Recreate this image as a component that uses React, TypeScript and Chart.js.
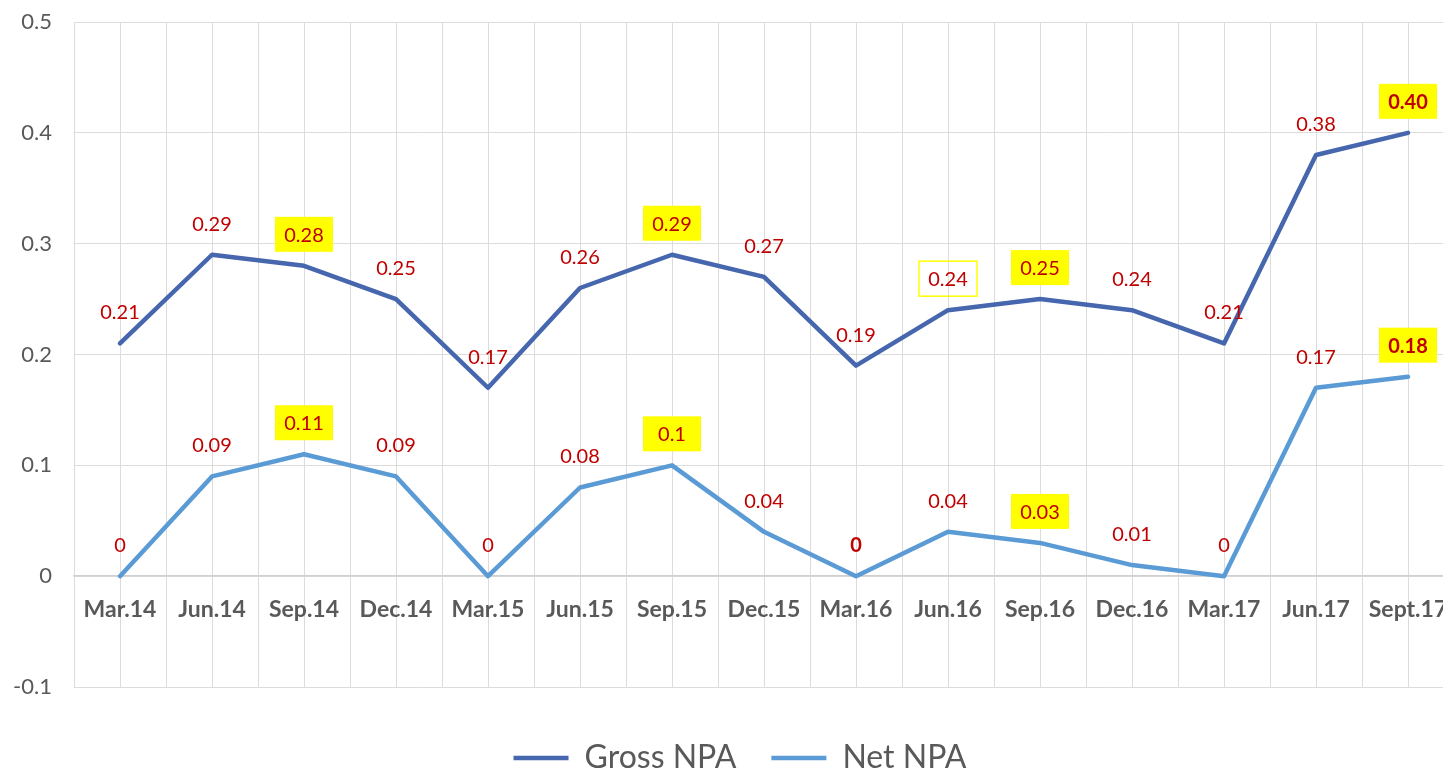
import React, { useEffect, useRef } from "react";
import { Chart, registerables } from "chart.js";

Chart.register(...registerables);

const categories = ["Mar.14", "Jun.14", "Sep.14", "Dec.14", "Mar.15", "Jun.15", "Sep.15", "Dec.15", "Mar.16", "Jun.16", "Sep.16", "Dec.16", "Mar.17", "Jun.17", "Sept.17"];
const grossNPA = [0.21, 0.29, 0.28, 0.25, 0.17, 0.26, 0.29, 0.27, 0.19, 0.24, 0.25, 0.24, 0.21, 0.38, 0.4];
const netNPA = [0, 0.09, 0.11, 0.09, 0, 0.08, 0.1, 0.04, 0, 0.04, 0.03, 0.01, 0, 0.17, 0.18];
const grossLabels = ["0.21", "0.29", "0.28", "0.25", "0.17", "0.26", "0.29", "0.27", "0.19", "0.24", "0.25", "0.24", "0.21", "0.38", "0.40"];
const netLabels = ["0", "0.09", "0.11", "0.09", "0", "0.08", "0.1", "0.04", "0", "0.04", "0.03", "0.01", "0", "0.17", "0.18"];
const grossHighlight = ["", "", "fill", "", "", "", "fill", "", "", "box", "fill", "", "", "", "fill"];
const netHighlight = ["", "", "fill", "", "", "", "fill", "", "", "", "fill", "", "", "", "fill"];
const grossBold = [false, false, false, false, false, false, false, false, false, false, false, false, false, false, true];
const netBold = [false, false, false, false, false, false, false, false, true, false, false, false, false, false, true];
const yMin = -0.1;
const yMax = 0.5;
const yStep = 0.1;

const FONT = "Lato, 'DejaVu Sans', sans-serif";
const GRID = "#dcdcdc";
const CLEAR = "rgba(0,0,0,0)";

const labelSets = [
  { texts: grossLabels, highlight: grossHighlight, bold: grossBold },
  { texts: netLabels, highlight: netHighlight, bold: netBold },
];

const pointLabelPlugin = {
  id: "pointLabels",
  afterDatasetsDraw(chart: any) {
    const ctx = chart.ctx;
    chart.data.datasets.forEach((_ds: any, di: number) => {
      const meta = chart.getDatasetMeta(di);
      const set = labelSets[di];
      meta.data.forEach((pt: any, i: number) => {
        const text = set.texts[i];
        const bold = set.bold[i];
        const hl = set.highlight[i];
        const cx = pt.x;
        const cy = pt.y - 31.5;
        ctx.save();
        ctx.font = `${bold ? "bold " : ""}20px ${FONT}`;
        const tw = ctx.measureText(text).width;
        const bw = Math.max(58, tw + 12);
        const bh = 35;
        if (hl === "fill") {
          ctx.fillStyle = "#FFFF00";
          ctx.fillRect(cx - bw / 2, cy - bh / 2, bw, bh);
        } else if (hl === "box") {
          ctx.strokeStyle = "#FFFF00";
          ctx.lineWidth = 1.5;
          ctx.strokeRect(cx - bw / 2, cy - bh / 2, bw, bh);
        }
        ctx.fillStyle = "#C00000";
        ctx.textAlign = "center";
        ctx.textBaseline = "middle";
        ctx.fillText(text, cx, cy + 1);
        ctx.restore();
      });
    });
  },
};

export default function App() {
  const canvasRef = useRef<HTMLCanvasElement | null>(null);

  useEffect(() => {
    if (!canvasRef.current) return;
    const chart = new Chart(canvasRef.current, {
      type: "line",
      data: {
        labels: categories,
        datasets: [
          {
            label: "Gross NPA",
            data: grossNPA,
            borderColor: "#4666AE",
            backgroundColor: "#4666AE",
            borderWidth: 4.5,
            borderCapStyle: "round",
            borderJoinStyle: "round",
            pointRadius: 0,
            tension: 0,
          },
          {
            label: "Net NPA",
            data: netNPA,
            borderColor: "#5B9BD5",
            backgroundColor: "#5B9BD5",
            borderWidth: 4.5,
            borderCapStyle: "round",
            borderJoinStyle: "round",
            pointRadius: 0,
            tension: 0,
          },
        ],
      },
      options: {
        responsive: false,
        animation: false,
        devicePixelRatio: 1,
        layout: { padding: { top: 22, left: 26, right: 0, bottom: 0 } },
        plugins: {
          tooltip: { enabled: false },
          legend: {
            position: "bottom",
            labels: {
              usePointStyle: true,
              pointStyle: "line",
              pointStyleWidth: 55,
              padding: 35,
              color: "#595959",
              font: { family: FONT, size: 32 },
            },
          },
        },
        scales: {
          x: {
            type: "category",
            position: { y: 0 } as any,
            offset: true,
            grid: { offset: true, color: GRID, drawTicks: true, tickLength: 20, tickColor: CLEAR },
            border: { display: true, color: "#d0d0d0", width: 1.5 },
            ticks: {
              color: "#595959",
              font: { family: FONT, size: 23, weight: "bold" },
              padding: 0,
              maxRotation: 0,
              autoSkip: false,
            },
          },
          x2: {
            type: "category",
            position: "bottom",
            offset: true,
            grid: { offset: false, color: GRID, drawTicks: true, tickLength: 20, tickColor: CLEAR },
            border: { display: false },
            ticks: { display: false, padding: 0 },
          },
          y: {
            min: yMin,
            max: yMax,
            grid: { color: GRID, drawTicks: true, tickLength: 22, tickColor: CLEAR },
            border: { display: true, color: GRID },
            afterFit: (scale: any) => {
              scale.width = 48;
              scale._computeLabelArea = () => undefined;
            },
            ticks: {
              stepSize: yStep,
              padding: 0,
              color: "#595959",
              font: { family: FONT, size: 22 },
              callback: (v: any) => String(Number(Number(v).toFixed(1))),
            },
          },
        },
      },
      plugins: [pointLabelPlugin],
    });
    return () => chart.destroy();
  }, []);

  return (
    <div style={{ position: "fixed", left: 0, top: 0, width: 1443, height: 770, overflow: "hidden", background: "#fff" }}>
      <canvas ref={canvasRef} width={1454} height={784} />
    </div>
  );
}
